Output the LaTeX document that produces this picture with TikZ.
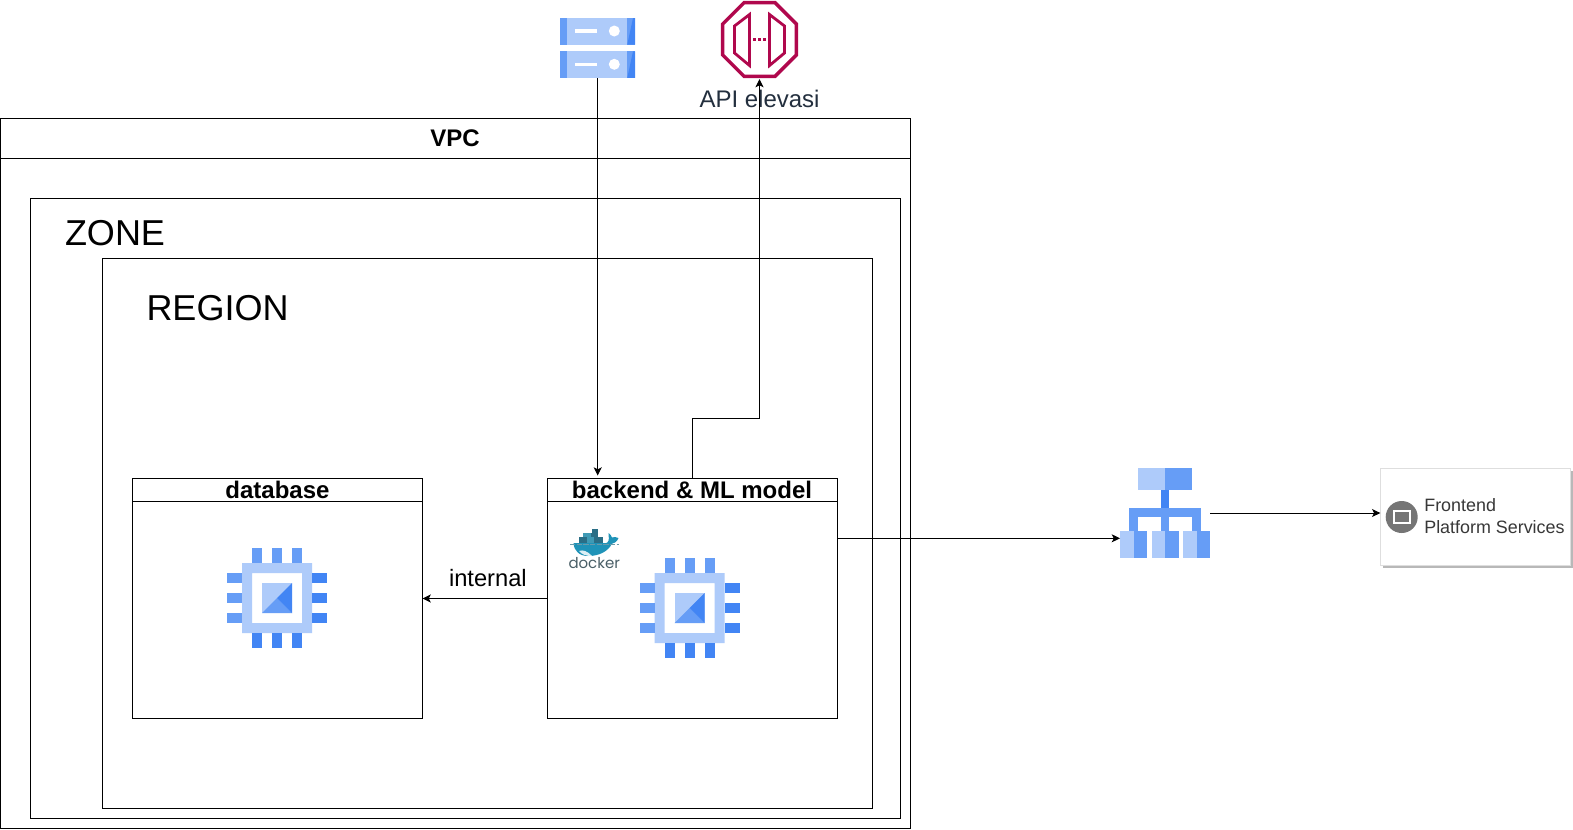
\documentclass[tikz,border=0pt]{standalone}
\usepackage{fontspec}
\setmainfont{Liberation Sans}
\newfontfamily\dockerfont{Poppins}
\usetikzlibrary{arrows.meta,calc}
\definecolor{gl}{HTML}{AECBFA}
\definecolor{gm}{HTML}{669DF6}
\definecolor{gd}{HTML}{4285F4}
\definecolor{apic}{HTML}{B0084D}
\definecolor{lbl}{HTML}{232F3E}
\definecolor{cardt}{HTML}{383838}
\definecolor{ico}{HTML}{757575}
\definecolor{whale}{HTML}{1F93B8}
\definecolor{cont}{HTML}{2A6E86}
\definecolor{contl}{HTML}{3F9AB5}
\definecolor{dockt}{HTML}{4A5F67}
\newcommand{\fsz}[1]{\pgfmathsetmacro{\tmpsz}{#1*0.75}\fontsize{\tmpsz pt}{\tmpsz pt}\selectfont}
\tikzset{
 x=0.75pt,y=-0.75pt,
 framebox/.style={draw=black,line width=0.75pt,inner sep=0pt,outer sep=0pt,anchor=north west},
 ghost/.style={inner sep=0pt,outer sep=0pt,anchor=north west},
 txt/.style={inner sep=0pt,outer sep=0pt,anchor=base west},
 ctxt/.style={inner sep=0pt,outer sep=0pt,anchor=base},
 conn/.style={draw=black,line width=0.75pt,-{Stealth[length=6.2pt,width=6pt,inset=1.5pt]}}
}
\newcommand{\bx}[6][framebox]{\node[#1,minimum width={(#5-#3)*0.75pt},minimum height={(#6-#4)*0.75pt}] (#2) at (#3,#4) {};}
\newcommand{\chip}[2]{%
 \begin{scope}[shift={(#1,#2)}]
  \fill[gl,even odd rule] (-35,-35) rectangle (35,35) (-25,-25) rectangle (25,25);
  \foreach \p in {-25,-5,15}{
   \fill[gm] (\p,-50) rectangle ++(10,15);
   \fill[gd] (\p,35) rectangle ++(10,15);
   \fill[gm] (-50,\p) rectangle ++(15,10);
   \fill[gd] (35,\p) rectangle ++(15,10);
  }
  \fill[gl] (-15,-15) rectangle (15,15);
  \fill[gm] (-15,15) -- (0,0) -- (15,15) -- cycle;
  \fill[gd] (15,-15) -- (15,15) -- (0,0) -- cycle;
 \end{scope}}
\newcommand{\srv}[1]{%
 \begin{scope}[shift={(560,#1)}]
  \fill[gl] (0,0) rectangle (75,26.5);
  \fill[gm] (0,0) rectangle (7.3,26.5);
  \fill[gm] (67.3,0) rectangle (75,26.5);
  \fill[gd] (73,0) -- (75,0) -- (75,26.5) -- (67.3,26.5) -- cycle;
  \fill[white] (15,11.3) rectangle (37.3,14.7);
  \fill[white] (54.3,13) circle[radius=5.5];
 \end{scope}}
\newcommand{\lbbox}[1]{%
 \fill[gl] (#1,531) rectangle ++(13.7,27);
 \fill[gm] (#1+13.7,531) rectangle ++(13.3,27);}
\begin{document}
\begin{tikzpicture}
\useasboundingbox (0,0) rectangle (1573,829);
\fill[white] (0,0) rectangle (1573,829);
% containers
\bx{vpc}{0.5}{118.5}{910.5}{828}
\bx{vpchead}{0.5}{118.5}{910.5}{158.5}
\bx{zone}{30.5}{198.5}{900.5}{818}
\bx{region}{102.5}{258.5}{872.5}{808}
\bx{db}{132.5}{478.5}{422.5}{718.5}
\bx{dbhead}{132.5}{478.5}{422.5}{501.5}
\bx{backend}{547.5}{478.5}{837.5}{718.5}
\bx{backendhead}{547.5}{478.5}{837.5}{501.5}
\node[ctxt,font=\fsz{24}\bfseries] (vpclabel) at (455,146) {VPC};
\node[txt,font=\fsz{36}] (zonelabel) at (65,245.5) {ZONE};
\node[txt,font=\fsz{36}] (regionlabel) at (146.5,320.5) {REGION};
\node[ctxt,font=\fsz{24}\bfseries] (dblabel) at (277.5,498.5) {database};
\node[ctxt,font=\fsz{24}\bfseries] (backendlabel) at (692,498.5) {backend \& ML model};
\node[txt,font=\fsz{23.7}] (internallabel) at (449,586.7) {internal};
\node[txt,font=\fsz{24}] (apilabel) at (699.5,107.5) {\textcolor{lbl}{API elevasi}};
% chips
\chip{277}{598}
\chip{689.6}{608}
% docker
\node[ghost,minimum width=37.5pt,minimum height=33pt] (docker) at (569,527) {};
\fill[cont] (592,528.5) rectangle (598.3,533);
\fill[contl] (583.3,532.7) rectangle (590.5,537);
\fill[cont] (590.5,532.7) rectangle (598.3,537);
\fill[cont] (579,536.7) rectangle (602.7,543.5);
\fill[contl] (587,536.7) rectangle (594,543.5);
\fill[whale] (573.5,543.2) -- (606,543.2) .. controls (608.5,542.5) and (609.5,539) .. (608.5,535.5) -- (608.5,533) .. controls (610.5,534.5) and (611.5,536) .. (612,537.5) .. controls (614,536.5) and (616,537) .. (618.5,538) .. controls (617,541.5) and (614.5,543.5) .. (612,543.8) .. controls (608,551) and (600,556) .. (588,556) .. controls (579,556) and (574,550.5) .. (573.5,543.2) -- cycle;
\fill[white!85!whale] (579,551) .. controls (583,549.5) and (587,551) .. (592,555.8) .. controls (586,556.3) and (582,554.5) .. (579,551) -- cycle;
\draw[cont!70!white,line width=0.5pt,dash pattern=on 4pt off 1pt] (570,544) -- (619,544);
\node[txt,font=\fsz{15}\dockerfont,text=dockt] (dockerlabel) at (568.5,568.7) {docker};
% server
\srv{18}\srv{51.3}
\node[ghost,minimum width=55.5pt,minimum height=45pt] (server) at (560.7,18) {};
% api
\node[ghost,minimum width=57.75pt,minimum height=58.5pt] (api) at (721,1) {};
\draw[apic,line width=2.6pt,line join=miter] (744,2.7) -- (775,2.7) -- (796.3,24) -- (796.3,55) -- (775,76.3) -- (744,76.3) -- (722.7,55) -- (722.7,24) -- cycle;
\draw[apic,line width=2.1pt] (749.5,14.5) -- (749.5,65.5) -- (734.5,53) -- (734.5,26) -- cycle;
\draw[apic,line width=2.1pt] (769.5,14.5) -- (769.5,65.5) -- (784.5,53) -- (784.5,26) -- cycle;
\foreach \q in {754.5,759.5,764.5}{\fill[apic] (\q-1.5,37.8) rectangle (\q+1.5,40.8);}
% load balancer
\fill[gl] (1138,468) rectangle (1165,490.3);
\fill[gm] (1165,468) rectangle (1192,490.3);
\fill[gd] (1160.7,490.3) rectangle (1169.3,508.3);
\fill[gm] (1129,508.3) rectangle (1201,517.3);
\fill[gm] (1129,517) rectangle (1138,531);
\fill[gm] (1160.7,517) rectangle (1169.3,531);
\fill[gm] (1192,517) rectangle (1201,531);
\lbbox{1120}\lbbox{1151.7}\lbbox{1183}
\node[ghost,minimum width=67.5pt,minimum height=67.5pt] (lb) at (1120,468) {};
\coordinate (lbin) at (1120,538.3);
% card
\fill[black!28] (1383,471) rectangle (1573,567.5);
\bx[framebox,draw=black!13,fill=white]{card}{1380.3}{468.3}{1570.7}{565}
\fill[ico] (1401.7,517) circle[radius=16];
\fill[white] (1392.7,510) rectangle (1410.7,524.3);
\fill[ico] (1394.7,512) rectangle (1408.7,522.3);
\node[txt,font=\fsz{17.9},text=cardt] (frontendlabel) at (1424.3,511.7) {Frontend};
\node[txt,font=\fsz{17.9},text=cardt] (platformlabel) at (1424.3,533.7) {Platform Services};
% connectors
\coordinate (apibend) at (759.5,418.5);
\draw[conn,shorten >=2.2pt] (server.south) -- (server.south |- backend.north);
\draw[conn] (backend.north) |- (apibend) -- (api.south);
\draw[conn] (backend.west) -- (db.east);
\draw[conn] (lbin -| backend.east) -- (lbin);
\draw[conn] (lb.east) -- (lb.east -| card.west);
\end{tikzpicture}
\end{document}
